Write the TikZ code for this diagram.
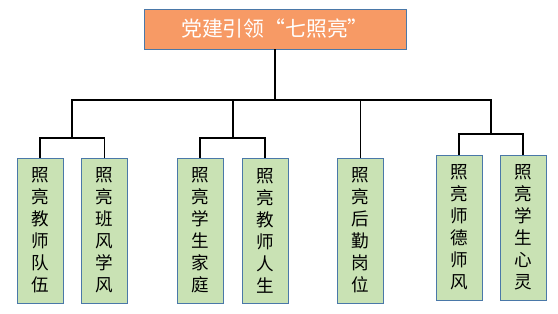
\documentclass[tikz,border=0pt]{standalone}
\usepackage{fontspec}
\setmainfont{Noto Sans CJK SC}
\usepackage{xcolor}
\usepackage{tikz}
\usetikzlibrary{positioning}
\definecolor{orgHead}{HTML}{F79A65}
\definecolor{orgLeaf}{HTML}{C9E2B4}
\definecolor{orgEdge}{HTML}{4A78A8}
\tikzset{
  org diagram/.style={x=0.03cm, y=-0.03cm, line cap=rect, line join=miter},
  org head/.style={draw=orgEdge, fill=orgHead, line width=0.6pt,
    minimum width=7.86cm, minimum height=1.2cm, text=white,
    font=\fontsize{17.8}{20}\selectfont, inner sep=0pt},
  org leaf/.style={draw=orgEdge, fill=orgLeaf, line width=0.8pt,
    minimum width=1.38cm, minimum height=4.35cm, align=center,
    font=\fontsize{15}{18.8}\selectfont, inner sep=0pt},
  org link/.style={draw=black, line width=1.1pt}
}
\begin{document}
\begin{tikzpicture}[org diagram]
\useasboundingbox (0,0) rectangle (558,314);
\node[org head] (title) at (275,29) {党建引领“七照亮”};
% leaf boxes
\node[org leaf] (b1) at (40,230.5) {照\\亮\\教\\师\\队\\伍};
\node[org leaf] (b2) at (104.5,230.5) {照\\亮\\班\\风\\学\\风};
\node[org leaf] (b3) at (200,230.5) {照\\亮\\学\\生\\家\\庭};
\node[org leaf] (b4) at (265,230.5) {照\\亮\\教\\师\\人\\生};
\node[org leaf] (b5) at (360.5,230.5) {照\\亮\\后\\勤\\岗\\位};
\node[org leaf] (b6) at (459,227.5) {照\\亮\\师\\德\\师\\风};
\node[org leaf] (b7) at (523,227.5) {照\\亮\\学\\生\\心\\灵};
% junctions
\coordinate (bus) at (275,100);
\coordinate (g1) at (72,138);
\coordinate (g2) at (233,138);
\coordinate (g4) at (491,134);
\draw[org link] (title.south) -- (bus);
\draw[org link] (g1) -- (g1 |- bus) -- (g4 |- bus) -- (g4);
\draw[org link] (g2) -- (g2 |- bus);
\draw[org link] (b5.north) -- (b5.north |- bus);
\draw[org link] (b1.north) |- (g1) -| (b2.north);
\draw[org link] (b3.north) |- (g2) -| (b4.north);
\draw[org link] (b6.north) |- (g4) -| (b7.north);
\end{tikzpicture}
\end{document}
